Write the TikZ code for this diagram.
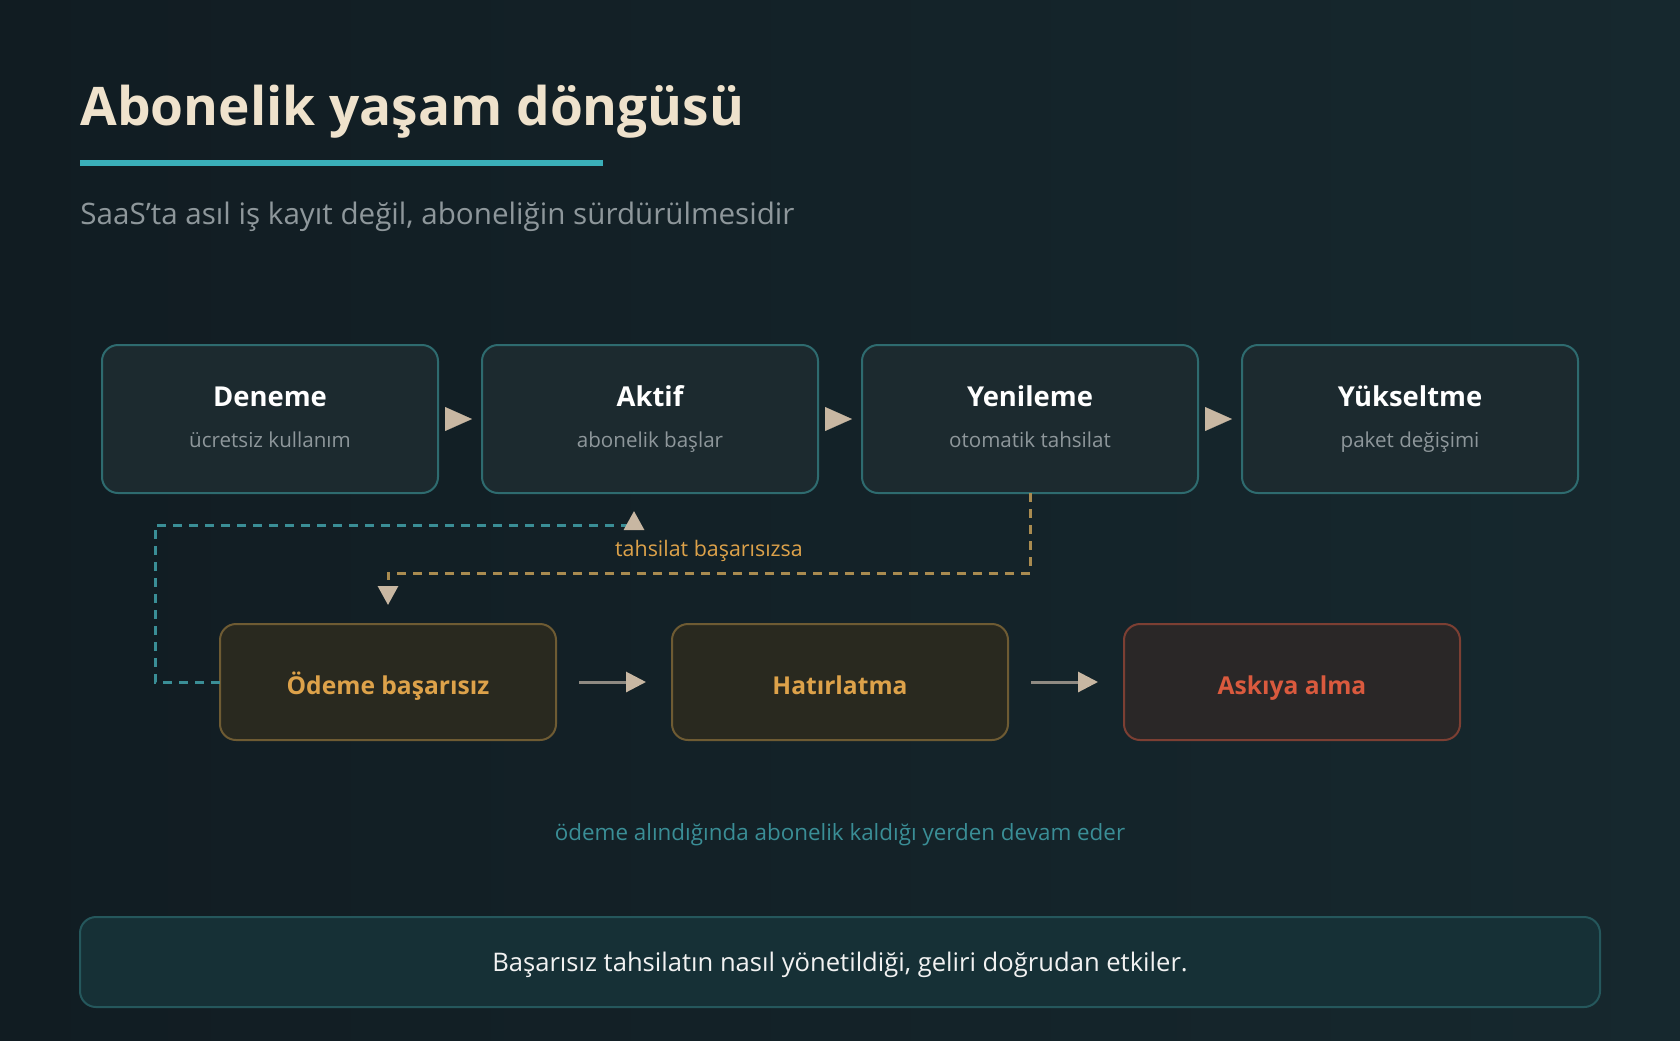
\documentclass[tikz,border=0pt]{standalone}
\usepackage{fontspec}
\setmainfont{Open Sans}
\usepackage{tikz}
\usetikzlibrary{positioning,arrows.meta,calc}

\definecolor{bgdark}{HTML}{111C22}
\definecolor{bglight}{HTML}{16282E}
\definecolor{titlecream}{HTML}{EFE2CC}
\definecolor{accent}{HTML}{3AAFB9}
\definecolor{subgray}{HTML}{8E979B}
\definecolor{stagefill}{HTML}{1C2A2F}
\definecolor{stageline}{HTML}{2E6B6F}
\definecolor{tipbeige}{HTML}{C8B7A2}
\definecolor{shaftgray}{HTML}{8F8A82}
\definecolor{warnfill}{HTML}{29291F}
\definecolor{warnline}{HTML}{6E5B33}
\definecolor{warntext}{HTML}{DDA24A}
\definecolor{stopfill}{HTML}{2A2727}
\definecolor{stopline}{HTML}{7C3F33}
\definecolor{stoptext}{HTML}{DA5A3E}
\definecolor{loopteal}{HTML}{3A8E96}
\definecolor{loopgold}{HTML}{A98B50}
\definecolor{notefill}{HTML}{163036}
\definecolor{noteline}{HTML}{25575C}

\newcommand{\stagesub}[1]{{\mdseries\fontsize{10.3}{12}\selectfont\color{subgray}\strut#1}}

\tikzstyle{stage} = [draw=stageline, line width=1pt, rounded corners=8pt, fill=stagefill, outer sep=0pt, minimum width=168pt, minimum height=74pt, align=center, text=white, font=\bfseries\fontsize{13.7}{16}\selectfont]
\tikzstyle{warn} = [draw=warnline, line width=1pt, rounded corners=8pt, fill=warnfill, outer sep=0pt, minimum width=168pt, minimum height=58pt, text height=12pt, text depth=0pt, text=warntext, font=\bfseries\fontsize{12.3}{14}\selectfont]
\tikzstyle{hop} = [line width=0.1pt, draw=tipbeige, -{Triangle[length=13.5pt,width=12pt]}]
\tikzstyle{flow} = [line width=1.5pt, draw=shaftgray, -{Triangle[length=10pt,width=10pt,color=tipbeige]}]
\tikzstyle{retry} = [line width=1.5pt, dash pattern=on 4.5pt off 3.5pt, -{Triangle[length=9.5pt,width=10pt,color=tipbeige]}]

\begin{document}
\begin{tikzpicture}[x=0.5pt,y=-0.5pt]
\useasboundingbox (0,0) rectangle (1680,1040);
\shade[left color=bgdark, right color=bglight] (0,0) rectangle (1680,1040);

% titolo
\node[anchor=base west, inner sep=0pt, text=titlecream, font=\bfseries\fontsize{26.6}{32}\selectfont] (title) at (80,125) {Abonelik yaşam döngüsü};
\draw[accent, line width=3pt] (80,163) -- (603,163);
\node[anchor=base west, inner sep=0pt, text=subgray, font=\fontsize{14.8}{18}\selectfont] (subtitle) at (80,224) {SaaS'ta asıl iş kayıt değil, aboneliğin sürdürülmesidir};

% fasi principali
\node[stage] (trial) at (270,419) {\strut Deneme\\[4.5pt]\stagesub{ücretsiz kullanım}};
\node[stage, right=22pt of trial] (active) {\strut Aktif\\[4.5pt]\stagesub{abonelik başlar}};
\node[stage, right=22pt of active] (renew) {\strut Yenileme\\[4.5pt]\stagesub{otomatik tahsilat}};
\node[stage, right=22pt of renew] (upgrade) {\strut Yükseltme\\[4.5pt]\stagesub{paket değişimi}};

\draw[hop] ([xshift=3.5pt]trial.east) -- ([xshift=-5pt]active.west);
\draw[hop] ([xshift=3.5pt]active.east) -- ([xshift=-5pt]renew.west);
\draw[hop] ([xshift=3.5pt]renew.east) -- ([xshift=-5pt]upgrade.west);

% ramo del mancato pagamento
\node[warn] (fail) at (388,682) {Ödeme başarısız};
\node[warn, right=58pt of fail] (remind) {Hatırlatma};
\node[warn, right=58pt of remind, draw=stopline, fill=stopfill, text=stoptext] (suspend) {Askıya alma};

\draw[flow] ([xshift=11.5pt]fail.east) -- ([xshift=-13pt]remind.west);
\draw[flow] ([xshift=11.5pt]remind.east) -- ([xshift=-13pt]suspend.west);

\draw[retry, draw=loopgold] (renew.south) -- ++(0,80) -| ($(fail.north)+(0,-19)$);
\node[text=warntext, font=\fontsize{10.7}{12}\selectfont] (failnote) at (709,551) {tahsilat başarısızsa};
\draw[retry, draw=loopteal] (fail.west) -- ++(-65,0) |- ($(active.south)+(-16,32)$) -- ($(active.south)+(-16,18)$);

\node[text=loopteal, font=\fontsize{11.2}{13}\selectfont] (resume) at (840,835) {ödeme alındığında abonelik kaldığı yerden devam eder};

\node[draw=noteline, line width=1pt, rounded corners=8pt, fill=notefill, minimum width=760pt, minimum height=45pt, text height=9.1pt, text depth=0pt, text=white!90!gray, font=\fontsize{12.8}{15}\selectfont] (note) at (840,962) {Başarısız tahsilatın nasıl yönetildiği, geliri doğrudan etkiler.};
\end{tikzpicture}
\end{document}
